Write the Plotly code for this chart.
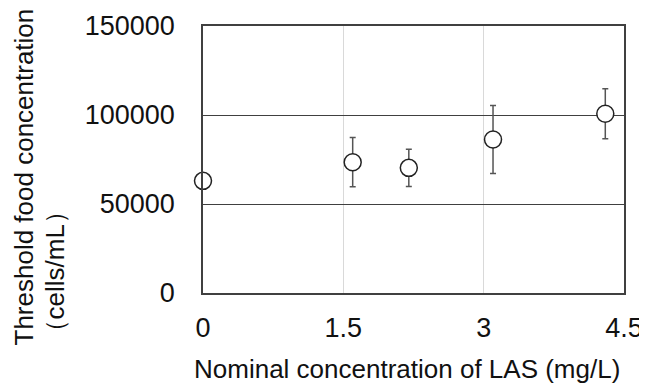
import plotly.graph_objects as go

las_conc = [0, 1.6, 2.2, 3.1, 4.3]
threshold_food = [63000, 73500, 70300, 86200, 100700]
sd = [0, 13800, 10500, 19100, 14000]
x_ticks = [0, 1.5, 3, 4.5]
x_tick_labels = ["0", "1.5", "3", "4.5"]
y_ticks = [0, 50000, 100000, 150000]
y_tick_labels = ["0", "50000", "100000", "150000"]
x_title = "Nominal concentration of LAS (mg/L)"
y_title_lines = ["Threshold food concentration", "（cells/mL）"]

font_family = "Liberation Sans, Arial, sans-serif"

fig = go.Figure()
fig.add_trace(go.Scatter(
    x=las_conc, y=threshold_food, mode="markers",
    marker=dict(symbol="circle", size=17, color="white",
                line=dict(color="#222222", width=1.5)),
    error_y=dict(type="data", array=sd, visible=True, color="#555555",
                 thickness=1.5, width=3),
    cliponaxis=False, showlegend=False,
))

fig.update_layout(
    width=639, height=376,
    margin=dict(l=195, r=23, t=18, b=91),
    paper_bgcolor="white", plot_bgcolor="white",
    font=dict(family=font_family, size=27, color="#111111"),
    xaxis=dict(
        range=[0, 4.5], tickmode="array", tickvals=x_ticks, ticktext=x_tick_labels,
        showgrid=True, gridcolor="#d9d9d9", gridwidth=1,
        showline=True, linecolor="#404040", linewidth=1.5, mirror=True,
        ticks="", ticklabelstandoff=10, zeroline=False, automargin=False,
    ),
    yaxis=dict(
        range=[0, 150000], tickmode="array", tickvals=y_ticks, ticktext=y_tick_labels,
        showgrid=True, gridcolor="#404040", gridwidth=1,
        showline=True, linecolor="#404040", linewidth=1.5, mirror=True,
        ticks="", ticklabelstandoff=21, zeroline=False, automargin=False,
    ),
)

fig.add_annotation(text=x_title, xref="paper", yref="paper", x=0.4834, y=-0.2846,
                   xanchor="center", yanchor="middle", showarrow=False,
                   font=dict(size=26, family=font_family, color="#111111"))
fig.add_annotation(text=y_title_lines[0], xref="paper", yref="paper", x=-0.4252, y=-0.2022,
                   xanchor="center", yanchor="bottom", showarrow=False, textangle=-90,
                   font=dict(size=26, family=font_family, color="#111111"))
fig.add_annotation(text=y_title_lines[1], xref="paper", yref="paper", x=-0.3492, y=-0.2022,
                   xanchor="center", yanchor="bottom", showarrow=False, textangle=-90,
                   font=dict(size=26, family=font_family, color="#111111"))

fig.write_html("out.html")
